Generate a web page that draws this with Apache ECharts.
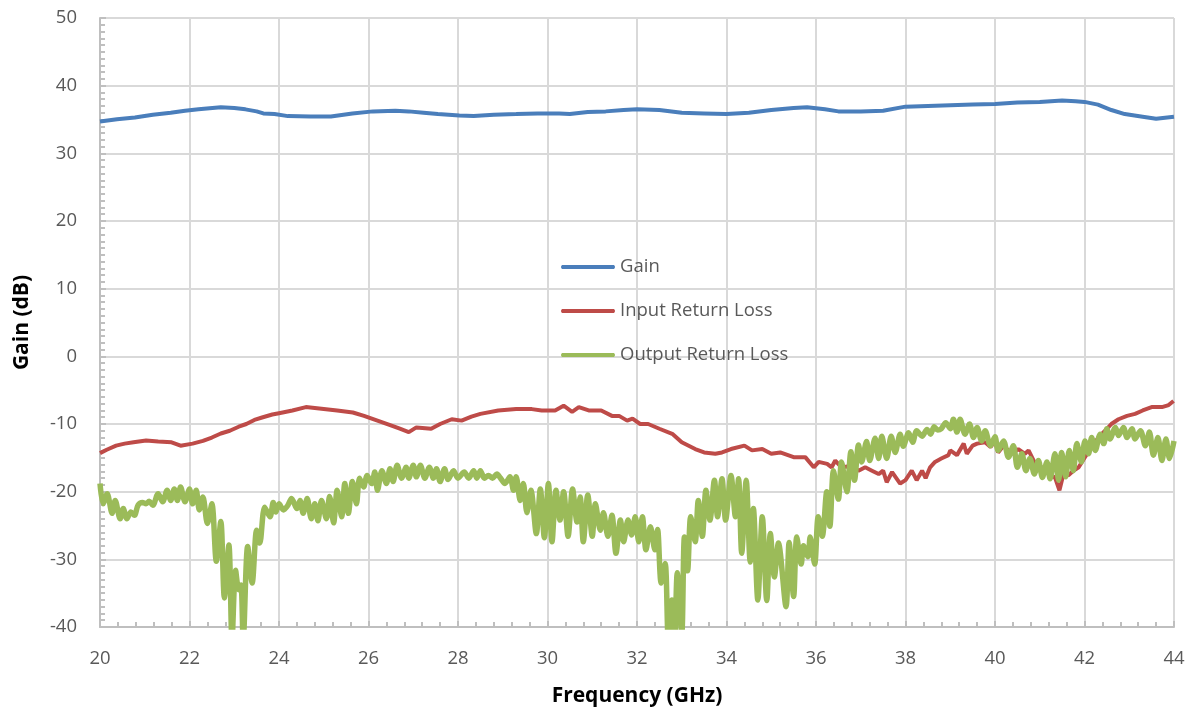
<!DOCTYPE html>
<html>
<head>
<meta charset="utf-8">
<script src="https://cdn.jsdelivr.net/npm/echarts@6/dist/echarts.min.js"></script>
<style>
html,body{margin:0;padding:0;background:#fff;}
#chart{width:1187px;height:711px;}
</style>
</head>
<body>
<div id="chart"></div>
<script>
const xTicks = [20, 22, 24, 26, 28, 30, 32, 34, 36, 38, 40, 42, 44];
const yTicks = [-40, -30, -20, -10, 0, 10, 20, 30, 40, 50];
const seriesNames = ['Gain', 'Input Return Loss', 'Output Return Loss'];

const gainFreq = [20.0,20.38,20.78,21.18,21.58,21.9,22.2,22.7,23.0,23.25,23.5,23.65,23.9,24.2,24.7,25.16,25.64,26.1,26.6,26.9,27.23,27.55,28.03,28.35,28.8,29.3,29.78,30.26,30.5,30.9,31.3,31.7,32.0,32.5,33.0,33.5,34.0,34.5,35.0,35.5,35.8,36.2,36.5,37.0,37.5,38.0,38.5,39.0,39.5,40.0,40.5,41.0,41.5,41.8,42.0,42.3,42.6,42.9,43.3,43.6,44.0];
const gainDb = [34.7,35.05,35.3,35.7,36.0,36.3,36.5,36.8,36.7,36.5,36.2,35.9,35.8,35.5,35.45,35.45,35.9,36.2,36.3,36.2,36.0,35.8,35.6,35.5,35.7,35.8,35.9,35.9,35.8,36.1,36.2,36.4,36.5,36.4,36.0,35.9,35.8,36.0,36.4,36.7,36.8,36.5,36.2,36.2,36.3,36.9,37.0,37.1,37.2,37.3,37.5,37.6,37.8,37.7,37.6,37.2,36.4,35.8,35.4,35.1,35.4];

const inFreq = [20.0,20.15,20.36,20.55,20.75,21.03,21.3,21.6,21.8,22.07,22.3,22.5,22.7,22.9,23.1,23.27,23.45,23.64,23.85,24.0,24.3,24.6,24.9,25.3,25.65,25.9,26.2,26.5,26.7,26.9,27.07,27.4,27.6,27.86,28.08,28.3,28.5,28.9,29.3,29.65,29.87,30.17,30.36,30.55,30.7,30.92,31.2,31.44,31.6,31.78,31.9,32.07,32.25,32.5,32.8,33.0,33.3,33.5,33.75,33.9,34.1,34.4,34.57,34.8,35.0,35.2,35.5,35.76,35.95,36.06,36.25,36.35,36.43,36.57,36.8,36.95,37.1,37.25,37.4,37.5,37.58,37.7,37.88,38.0,38.14,38.25,38.37,38.45,38.55,38.66,38.8,38.96,39.0,39.15,39.3,39.37,39.5,39.6,39.78,39.9,40.0,40.07,40.19,40.37,40.52,40.67,40.75,40.9,41.04,41.2,41.34,41.44,41.53,41.64,41.75,41.87,42.01,42.16,42.31,42.46,42.6,42.76,42.95,43.13,43.3,43.5,43.73,43.88,43.99];
const inDb = [-14.3,-13.8,-13.2,-12.9,-12.7,-12.45,-12.6,-12.7,-13.2,-12.9,-12.5,-12.0,-11.4,-11.0,-10.4,-10.0,-9.4,-9.0,-8.6,-8.4,-8.0,-7.5,-7.7,-8.0,-8.3,-8.8,-9.5,-10.2,-10.7,-11.2,-10.5,-10.7,-10.0,-9.3,-9.5,-8.9,-8.5,-8.0,-7.8,-7.8,-8.0,-8.0,-7.3,-8.2,-7.5,-8.0,-8.0,-8.8,-8.8,-9.5,-9.2,-10.0,-10.0,-10.7,-11.5,-12.7,-13.7,-14.2,-14.4,-14.2,-13.7,-13.2,-13.9,-13.7,-14.4,-14.2,-14.9,-14.9,-16.4,-15.6,-15.9,-16.4,-15.4,-16.4,-16.2,-16.9,-16.4,-16.9,-17.4,-16.9,-18.6,-17.1,-18.8,-18.3,-16.9,-18.3,-16.9,-18.0,-16.4,-15.6,-15.1,-14.6,-13.9,-14.6,-12.9,-14.4,-13.2,-12.9,-12.7,-13.4,-12.5,-14.2,-13.2,-14.4,-13.7,-14.4,-13.9,-15.9,-16.4,-17.4,-17.9,-19.8,-17.4,-17.6,-16.9,-16.4,-14.9,-13.4,-12.0,-11.0,-10.0,-9.3,-8.8,-8.5,-8.0,-7.5,-7.5,-7.2,-6.6];

const outFreq = [20.0,20.07,20.16,20.27,20.34,20.45,20.52,20.6,20.69,20.77,20.85,20.95,21.03,21.1,21.18,21.3,21.4,21.5,21.58,21.66,21.73,21.8,21.9,22.0,22.07,22.15,22.22,22.3,22.4,22.5,22.6,22.7,22.78,22.88,22.95,23.03,23.1,23.15,23.2,23.3,23.4,23.5,23.57,23.68,23.8,23.87,23.93,24.0,
24.1,24.2,24.28,24.4,24.47,24.54,24.63,24.72,24.8,24.87,24.95,25.06,25.13,25.22,25.3,25.4,25.47,25.55,25.64,25.73,25.8,25.89,25.97,26.07,26.14,26.2,26.3,26.4,26.48,26.55,26.64,26.74,26.84,26.9,27.0,27.07,27.16,27.26,27.36,27.45,27.52,27.6,27.7,27.78,27.9,28.0,
28.14,28.24,28.35,28.42,28.5,28.59,28.68,28.77,28.87,28.95,29.05,29.16,29.24,29.3,29.39,29.46,29.54,29.63,29.75,29.84,29.93,30.02,30.1,30.19,30.28,30.36,30.46,30.56,30.66,30.73,30.8,30.9,31.0,31.07,31.18,31.25,31.35,31.44,31.53,31.63,31.7,31.8,31.88,31.96,32.04,
32.12,32.2,32.3,32.4,32.46,32.54,32.63,32.7,32.78,32.84,32.9,33.0,33.06,33.13,33.2,33.3,33.37,33.46,33.54,33.63,33.73,33.8,33.9,33.98,34.1,34.2,34.27,34.34,34.44,34.53,34.6,34.7,34.8,34.9,34.98,35.07,35.16,35.33,35.4,35.5,35.57,35.67,35.72,35.82,35.87,35.97,36.05,
36.14,36.24,36.31,36.39,36.5,36.57,36.69,36.78,36.86,36.95,37.02,37.13,37.2,37.32,37.4,37.47,37.58,37.68,37.77,37.88,37.95,38.07,38.16,38.25,38.37,38.48,38.56,38.64,38.72,38.8,38.9,39.0,39.07,39.15,39.22,39.33,39.43,39.52,39.6,39.7,39.78,39.9,40.0,
40.07,40.19,40.3,40.41,40.5,40.6,40.69,40.78,40.88,40.97,41.06,41.16,41.23,41.34,41.42,41.49,41.58,41.66,41.75,41.83,41.93,42.01,42.09,42.16,42.24,42.35,42.43,42.5,42.57,42.69,42.76,42.87,42.95,43.06,43.13,43.25,43.36,43.45,43.54,43.64,43.73,43.82,43.9,44.0];
const outDb = [-18.8,-21.8,-20.3,-23.2,-21.3,-24.0,-22.5,-24.0,-23.0,-23.5,-22.0,-21.6,-21.8,-21.4,-22.0,-20.3,-21.5,-19.8,-21.3,-19.6,-21.3,-19.3,-21.5,-19.6,-21.8,-19.8,-22.7,-20.8,-24.7,-21.8,-30.3,-24.4,-35.7,-27.9,-42.0,-31.6,-34.5,-33.8,-42.0,-28.1,-33.5,-25.7,-27.6,-22.3,-23.7,-21.6,-23.0,-21.8,
-22.7,-22.0,-21.0,-22.5,-21.3,-23.2,-21.0,-24.0,-21.8,-24.3,-21.3,-24.0,-20.7,-24.6,-19.8,-23.7,-18.8,-23.2,-18.5,-21.8,-18.0,-19.3,-17.6,-18.8,-17.1,-19.8,-16.9,-18.8,-16.6,-18.5,-16.1,-18.0,-16.4,-18.0,-16.1,-17.8,-16.1,-18.0,-16.4,-18.0,-16.6,-18.5,-16.6,-18.2,-16.9,-18.0,
-17.1,-18.0,-16.9,-18.0,-16.9,-18.0,-17.6,-18.0,-17.4,-18.0,-18.8,-17.8,-19.8,-17.8,-21.3,-18.8,-23.1,-19.8,-26.2,-19.6,-26.8,-18.8,-27.4,-19.8,-24.2,-20.0,-26.6,-19.6,-24.5,-20.8,-27.4,-20.5,-26.6,-21.8,-25.7,-23.1,-26.6,-23.5,-29.1,-24.2,-27.4,-24.2,-26.4,-23.7,-27.4,
-23.7,-28.6,-25.2,-28.6,-25.6,-33.5,-30.6,-42.0,-36.0,-42.0,-32.0,-41.0,-26.7,-31.7,-23.7,-27.4,-21.3,-26.6,-19.8,-24.2,-18.3,-23.7,-18.1,-24.2,-17.6,-23.7,-18.1,-29.1,-18.3,-30.4,-22.5,-36.0,-23.7,-36.1,-26.2,-32.6,-27.6,-37.0,-27.5,-35.5,-26.7,-30.7,-28.0,-29.6,-26.7,-30.7,-23.7,
-26.6,-20.0,-25.1,-16.9,-21.1,-15.6,-20.0,-14.1,-18.3,-13.1,-15.6,-12.6,-15.4,-12.1,-15.1,-11.8,-15.1,-11.8,-14.2,-11.5,-13.3,-11.3,-12.7,-11.0,-11.8,-10.8,-11.5,-10.4,-10.9,-10.7,-9.8,-10.7,-9.3,-11.2,-9.3,-11.5,-10.0,-12.0,-10.5,-12.5,-11.0,-13.2,-11.9,
-13.9,-12.5,-14.9,-13.2,-16.4,-14.4,-16.9,-15.1,-17.4,-15.4,-17.9,-15.6,-18.1,-14.4,-18.3,-14.2,-17.8,-13.9,-16.9,-12.9,-15.6,-12.5,-14.4,-12.0,-13.9,-11.5,-12.9,-10.7,-12.2,-10.5,-11.7,-10.5,-12.0,-10.7,-12.2,-11.0,-13.2,-11.2,-14.6,-12.0,-15.4,-12.2,-15.1,-12.5];

function zip(xs, ys) { return xs.map((x, i) => [x, ys[i]]); }

const FONT = '"Open Sans", sans-serif';
const chart = echarts.init(document.getElementById('chart'), null, {renderer: 'canvas'});
chart.setOption({
  animation: false,
  backgroundColor: '#ffffff',
  grid: {left: 100, right: 13, top: 18, bottom: 84, containLabel: false, outerBoundsMode: 'none'},
  legend: {
    orient: 'vertical',
    left: 556,
    top: 251,
    itemWidth: 54,
    itemHeight: 22,
    itemGap: 22,
    icon: 'path://M2,8 L52,8 Q54,10 52,12 L2,12 Q0,10 2,8 Z',
    data: seriesNames,
    textStyle: {fontFamily: FONT, fontSize: 18.5, color: '#595959', lineHeight: 22}
  },
  xAxis: {
    type: 'value',
    min: xTicks[0],
    max: xTicks[xTicks.length - 1],
    interval: 2,
    name: 'Frequency (GHz)',
    nameLocation: 'middle',
    nameGap: 59,
    nameTextStyle: {fontFamily: FONT, fontSize: 21, fontWeight: 'bold', color: '#000000'},
    axisLine: {show: true, onZero: false, lineStyle: {color: '#BFBFBF', width: 2}},
    axisTick: {show: true, inside: true, length: 6, lineStyle: {color: '#BFBFBF', width: 2}},
    minorTick: {show: true, splitNumber: 5, length: 5, lineStyle: {color: '#BFBFBF', width: 2}},
    axisLabel: {fontFamily: FONT, fontSize: 18.5, color: '#595959', margin: 22},
    splitLine: {show: true, lineStyle: {color: '#D9D9D9', width: 2}}
  },
  yAxis: {
    type: 'value',
    min: yTicks[0],
    max: yTicks[yTicks.length - 1],
    interval: 10,
    name: 'Gain (dB)',
    nameLocation: 'middle',
    nameGap: 67,
    nameTextStyle: {fontFamily: FONT, fontSize: 21, fontWeight: 'bold', color: '#000000'},
    axisLine: {show: true, onZero: false, lineStyle: {color: '#BFBFBF', width: 2}},
    axisTick: {show: true, inside: true, length: 6, lineStyle: {color: '#BFBFBF', width: 2}},
    minorTick: {show: true, splitNumber: 10, length: 5, lineStyle: {color: '#BFBFBF', width: 2}},
    axisLabel: {fontFamily: FONT, fontSize: 18.5, color: '#595959', margin: 23},
    splitLine: {show: true, lineStyle: {color: '#D9D9D9', width: 2}}
  },
  series: [
    {name: seriesNames[0], type: 'line', data: zip(gainFreq, gainDb), showSymbol: false, symbol: 'none', clip: true,
     lineStyle: {color: '#4A7EBB', width: 4}, itemStyle: {color: '#4A7EBB'}, z: 3},
    {name: seriesNames[1], type: 'line', data: zip(inFreq, inDb), showSymbol: false, symbol: 'none', clip: true,
     lineStyle: {color: '#BE4B48', width: 4}, itemStyle: {color: '#BE4B48'}, z: 2},
    {name: seriesNames[2], type: 'line', data: zip(outFreq, outDb), showSymbol: false, symbol: 'none', clip: true, smooth: 0.3,
     lineStyle: {color: '#9BBB59', width: 5.5}, itemStyle: {color: '#9BBB59'}, z: 4}
  ]
});
</script>
</body>
</html>
